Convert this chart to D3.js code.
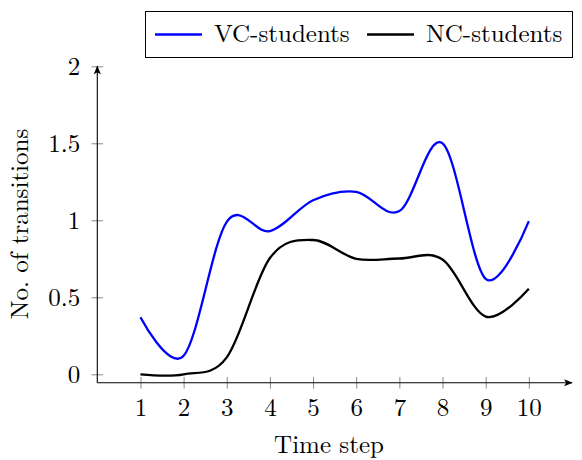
<!DOCTYPE html>
<meta charset="utf-8">
<script src="https://d3js.org/d3.v7.min.js"></script>
<style>
  body { margin: 0; background: #fff; }
</style>
<div id="chart"></div>
<script>

// data
var steps = [1, 2, 3, 4, 5, 6, 7, 8, 9, 10];
var vcStudents = [0.37, 0.12, 0.99, 0.93, 1.13, 1.185, 1.06, 1.5, 0.62, 0.995];
var ncStudents = [0.0, 0.0, 0.11, 0.755, 0.872, 0.75, 0.752, 0.745, 0.375, 0.555];
var yTicks = [0, 0.5, 1, 1.5, 2];
var seriesNames = ["VC-students", "NC-students"];
var seriesColors = ["#0000ff", "#000000"];

var width = 582, height = 460;
var fontFamily = "'Latin Modern Roman', 'Liberation Serif', serif";
var fontSize = "25px";

var svg = d3.select("#chart")
  .append("svg")
    .attr("width", width)
    .attr("height", height);

// scales
var x = d3.scaleLinear().domain([0, 11]).range([97.3, 572]);
var y = d3.scaleLinear().domain([0, 2]).range([374.3, 66.3]);
var axisY = y(-0.055);

// arrow head
svg.append("defs").append("marker")
    .attr("id", "arrow")
    .attr("viewBox", "0 0 10 10")
    .attr("refX", 9).attr("refY", 5)
    .attr("markerWidth", 9).attr("markerHeight", 9)
    .attr("markerUnits", "userSpaceOnUse")
    .attr("orient", "auto")
  .append("path")
    .attr("d", "M0,1 L10,5 L0,9 L2.5,5 Z")
    .attr("fill", "#000");

// x axis ticks + labels
var xAxis = svg.append("g")
    .attr("transform", "translate(0," + axisY + ")")
    .call(d3.axisBottom(x).tickValues(steps).tickSize(0).tickPadding(0));
xAxis.select(".domain").remove();
xAxis.selectAll(".tick line").remove();
xAxis.selectAll(".tick").append("line")
    .attr("y1", -5.8).attr("y2", 5.8)
    .attr("stroke", "#888").attr("stroke-width", 1);
xAxis.selectAll(".tick text")
    .attr("y", 33.5)
    .attr("dy", null)
    .attr("fill", "#000")
    .style("font-family", fontFamily)
    .style("font-size", fontSize);

// y axis ticks + labels
var yAxis = svg.append("g")
    .attr("transform", "translate(" + x(0) + ",0)")
    .call(d3.axisLeft(y).tickValues(yTicks).tickFormat(d3.format("~g")).tickSize(0).tickPadding(0));
yAxis.select(".domain").remove();
yAxis.selectAll(".tick line").remove();
yAxis.selectAll(".tick").append("line")
    .attr("x1", -5.8).attr("x2", 5.8)
    .attr("stroke", "#888").attr("stroke-width", 1);
yAxis.selectAll(".tick text")
    .attr("x", -17)
    .attr("dy", "0.34em")
    .attr("fill", "#000")
    .style("font-family", fontFamily)
    .style("font-size", fontSize);

// axis lines with arrows
svg.append("line")
    .attr("x1", x(0)).attr("x2", x(11))
    .attr("y1", axisY).attr("y2", axisY)
    .attr("stroke", "#000").attr("stroke-width", 1.1)
    .attr("marker-end", "url(#arrow)");
svg.append("line")
    .attr("x1", x(0)).attr("x2", x(0))
    .attr("y1", axisY).attr("y2", y(2))
    .attr("stroke", "#000").attr("stroke-width", 1.1)
    .attr("marker-end", "url(#arrow)");

// smooth lines
var line = d3.line()
    .x(function(d) { return x(d[0]); })
    .y(function(d) { return y(d[1]); })
    .curve(d3.curveCardinal.tension(0));

[vcStudents, ncStudents].forEach(function(vals, i) {
  svg.append("path")
      .datum(steps.map(function(s, j) { return [s, vals[j]]; }))
      .attr("d", line)
      .attr("fill", "none")
      .attr("stroke", seriesColors[i])
      .attr("stroke-width", 2.3)
      .attr("stroke-linejoin", "round");
});

// axis titles
svg.append("text")
    .attr("x", 329).attr("y", 453)
    .attr("text-anchor", "middle")
    .style("font-family", fontFamily)
    .style("font-size", fontSize)
    .text("Time step");
svg.append("text")
    .attr("transform", "translate(28,224) rotate(-90)")
    .attr("text-anchor", "middle")
    .style("font-family", fontFamily)
    .style("font-size", fontSize)
    .text("No. of transitions");

// legend
var legend = svg.append("g");
legend.append("rect")
    .attr("x", 145.5).attr("y", 11.5)
    .attr("width", 427).attr("height", 46)
    .attr("fill", "#fff").attr("stroke", "#000").attr("stroke-width", 1);
var legendX = [155, 367];
seriesNames.forEach(function(name, i) {
  legend.append("line")
      .attr("x1", legendX[i]).attr("x2", legendX[i] + 47)
      .attr("y1", 34.5).attr("y2", 34.5)
      .attr("stroke", seriesColors[i]).attr("stroke-width", 2.3);
  legend.append("text")
      .attr("x", legendX[i] + 59).attr("y", 42)
      .style("font-family", fontFamily)
      .style("font-size", fontSize)
      .text(name);
});

</script>
